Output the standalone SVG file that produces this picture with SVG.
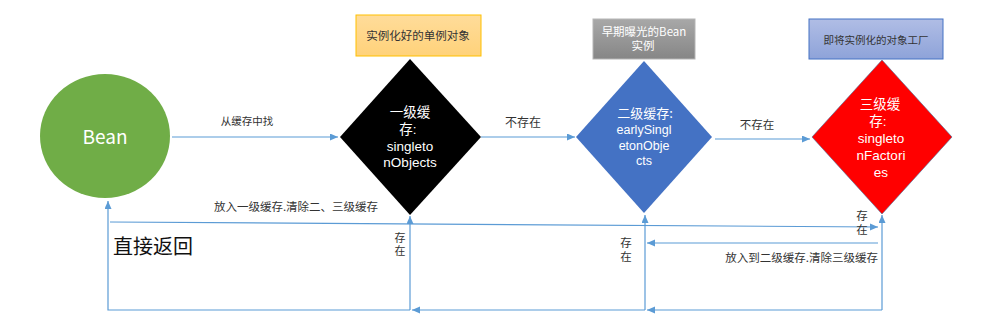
<svg xmlns="http://www.w3.org/2000/svg" width="1006" height="336" viewBox="0 0 1006 336">
<style>
text{font-family:"Noto Sans CJK SC","Liberation Sans",sans-serif;}
.lat{font-family:"Liberation Sans","Noto Sans CJK SC",sans-serif;}
.w{fill:#ffffff;text-anchor:middle;}
.d{fill:#333333;}
.c{text-anchor:middle;}
.v{writing-mode:vertical-rl;letter-spacing:2px;fill:#333333;}
.conn{fill:none;stroke:#5B9BD5;stroke-width:1.2;}
</style>
<defs>
<marker id="ah" markerUnits="userSpaceOnUse" markerWidth="9" markerHeight="8" refX="8" refY="3.5" orient="auto">
<path d="M0,0 L8,3.5 L0,7 z" fill="#5B9BD5"/>
</marker>
<linearGradient id="gy" x1="0" y1="0" x2="0" y2="1"><stop offset="0" stop-color="#FFDC9A"/><stop offset="1" stop-color="#FFD27A"/></linearGradient>
<linearGradient id="gg" x1="0" y1="0" x2="0" y2="1"><stop offset="0" stop-color="#A8A8A8"/><stop offset="1" stop-color="#868686"/></linearGradient>
<linearGradient id="gb" x1="0" y1="0" x2="0" y2="1"><stop offset="0" stop-color="#B0BDE5"/><stop offset="1" stop-color="#8EA3D9"/></linearGradient>
</defs>

<g id="connectors">
<path class="conn" d="M172,137 L338,137" marker-end="url(#ah)"/>
<path class="conn" d="M481,137 L575,137" marker-end="url(#ah)"/>
<path class="conn" d="M715,139 L810,139" marker-end="url(#ah)"/>
<path class="conn" d="M110,222 L878,227" marker-end="url(#ah)"/>
<path class="conn" d="M878,243 L647,243" marker-end="url(#ah)"/>
<path class="conn" d="M882,310 L882,215" marker-end="url(#ah)"/>
<path class="conn" d="M882,310 L647,310" marker-end="url(#ah)"/>
<path class="conn" d="M645,310 L645,215" marker-end="url(#ah)"/>
<path class="conn" d="M645,310 L412,310" marker-end="url(#ah)"/>
<path class="conn" d="M410,310 L410,216" marker-end="url(#ah)"/>
<path class="conn" d="M410,310 L108,310 L108,201" marker-end="url(#ah)"/>
<text class="d c" x="247" y="125" font-size="10.5">从缓存中找</text>
<text class="d c" x="523" y="127" font-size="12">不存在</text>
<text class="d c" x="757" y="129" font-size="11.5">不存在</text>
<text class="d c" x="296" y="211" font-size="11.5">放入一级缓存.清除二、三级缓存</text>
<text class="d" x="878" y="262" font-size="11.5" text-anchor="end">放入到二级缓存.清除三级缓存</text>
<text class="v" x="400" y="232" font-size="11">存在</text>
<text class="v" x="626" y="237" font-size="11.5">存在</text>
<text class="v" x="862" y="210" font-size="11.5">存在</text>
<text x="113" y="254" font-size="20" fill="#111111">直接返回</text>
</g>

<g id="bean">
<ellipse cx="105" cy="136" rx="65" ry="62" fill="#70AD47"/>
<text class="w" x="105" y="144" font-size="19">Bean</text>
</g>

<g id="label1">
<rect x="356" y="15" width="125" height="41" fill="url(#gy)" stroke="#FFC000" stroke-width="1"/>
<text class="c" x="418" y="39.5" font-size="11.5" fill="#333">实例化好的单例对象</text>
</g>

<g id="cache1">
<polygon points="410,59 481,137 410,215 340,137" fill="#000000"/>
<text class="w" font-size="13.5" x="410" y="117">一级缓</text>
<text class="w lat" font-size="13.5"><tspan x="408" y="134">存:</tspan><tspan x="410" y="151">singleto</tspan><tspan x="410" y="167">nObjects</tspan></text>
</g>

<g id="label2">
<rect x="593" y="19" width="102" height="40" fill="url(#gg)" stroke="#B5B5B5" stroke-width="1"/>
<text class="w" font-size="11.5"><tspan x="644" y="36">早期曝光的Bean</tspan><tspan x="643" y="50">实例</tspan></text>
</g>

<g id="cache2">
<polygon points="644,61 712,137 644,213 576,137" fill="#4472C4"/>
<text class="w" font-size="13" x="645" y="118">二级缓存:</text>
<text class="w lat" font-size="12.5"><tspan x="644" y="134">earlySingl</tspan><tspan x="644" y="150">etonObje</tspan><tspan x="644" y="165">cts</tspan></text>
</g>

<g id="label3">
<rect x="809" y="19" width="134" height="40" fill="url(#gb)" stroke="#4472C4" stroke-width="1"/>
<text class="c" x="876" y="44" font-size="10.5" fill="#333">即将实例化的对象工厂</text>
</g>

<g id="cache3">
<polygon points="882,60 952,137 882,214 812,137" fill="#FF0000" stroke="#41719C" stroke-width="0.6"/>
<text class="w" font-size="13.5" x="880" y="109">三级缓</text>
<text class="w lat" font-size="13.5"><tspan x="878" y="126">存:</tspan><tspan x="881" y="143">singleto</tspan><tspan x="881" y="160">nFactori</tspan><tspan x="881" y="177">es</tspan></text>
</g>
</svg>
